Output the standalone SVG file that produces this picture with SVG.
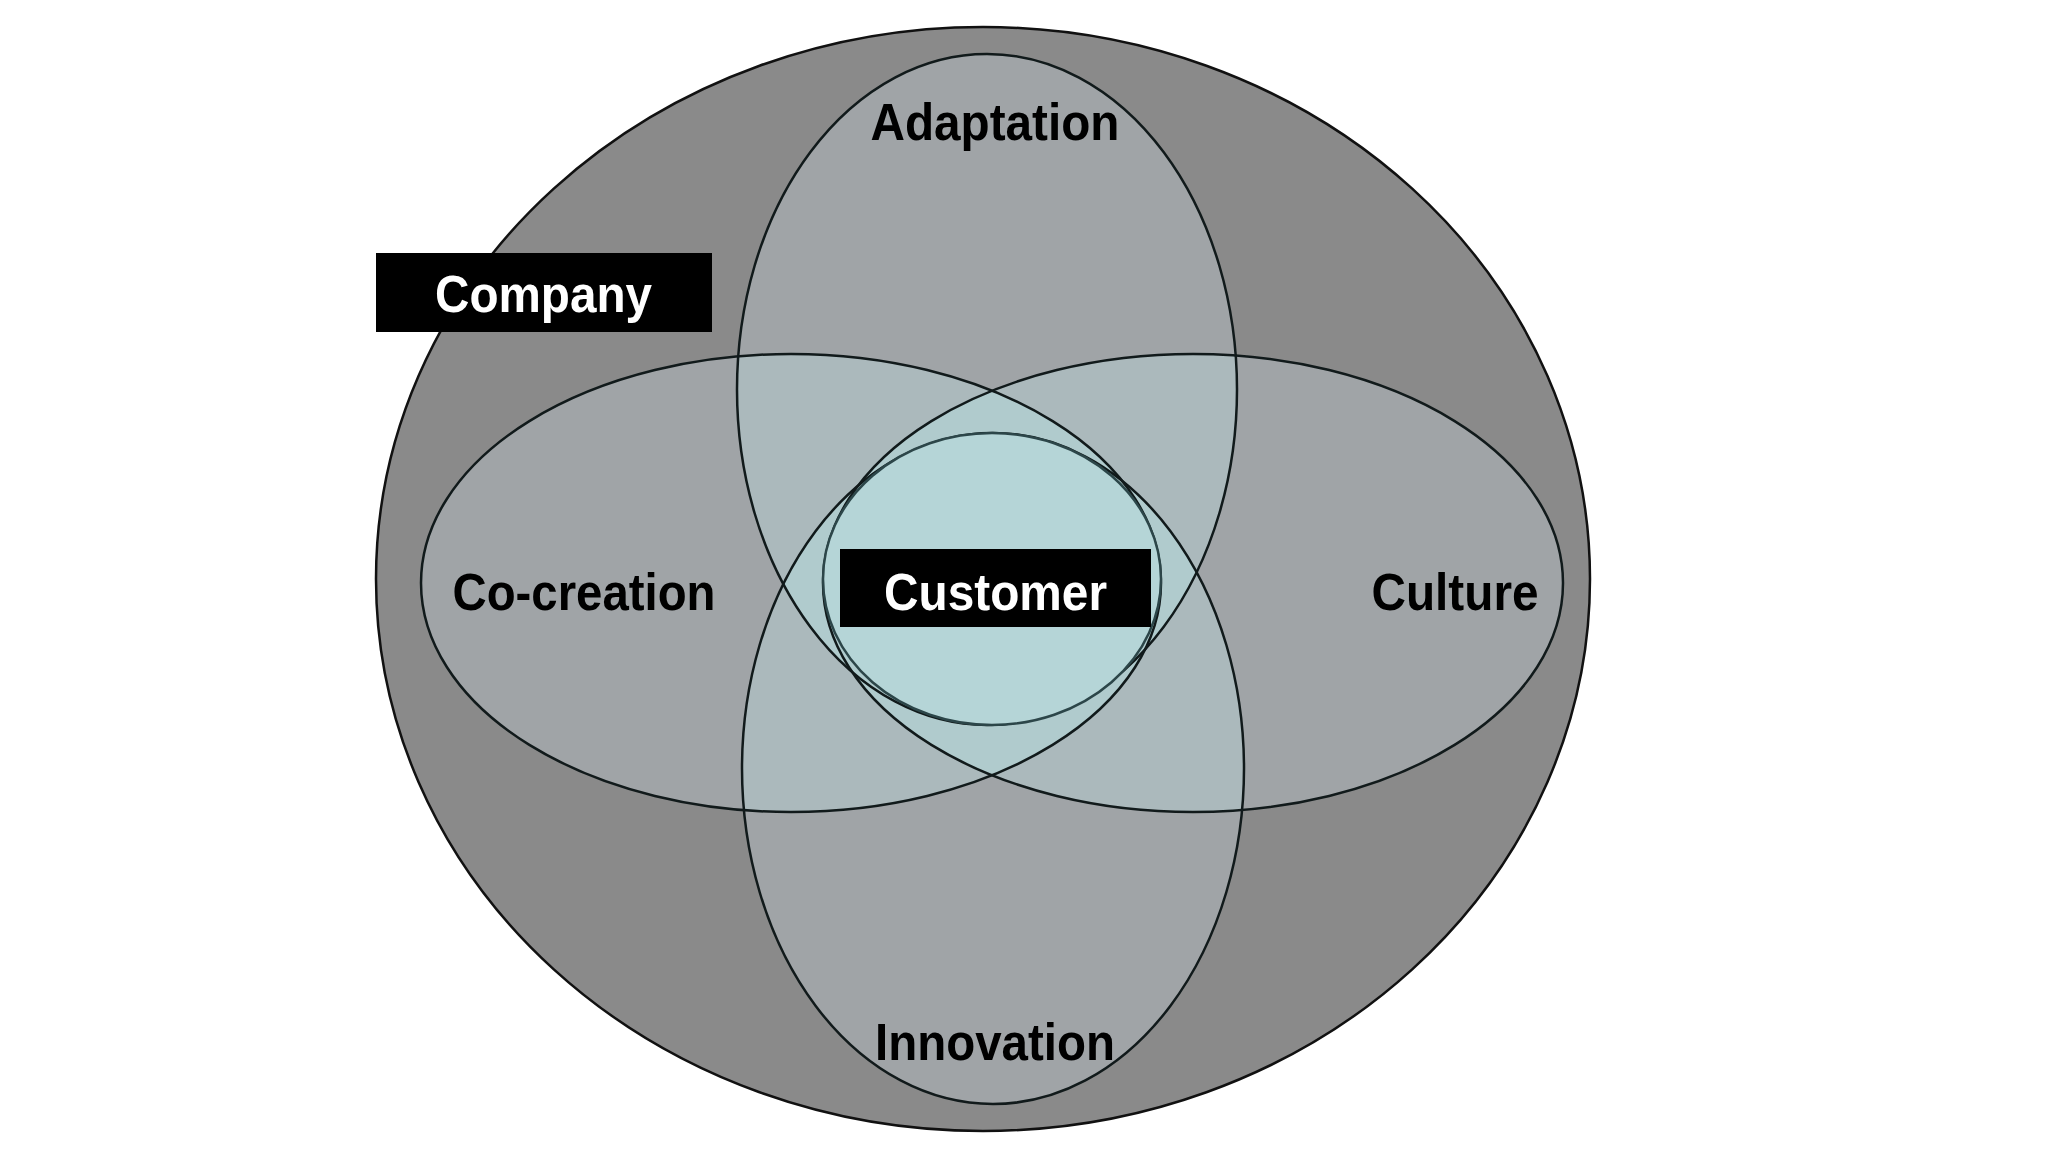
<svg xmlns="http://www.w3.org/2000/svg" xmlns:xlink="http://www.w3.org/1999/xlink" width="2048" height="1152" viewBox="0 0 2048 1152">
  <style>
    .outline { fill: none; stroke: #111a1b; stroke-width: 2.5; }
    .cust-outline { fill: none; stroke: #2c4649; stroke-width: 2.5; }
    .single { fill: #a0a4a7; }
    .double { fill: #abb9bc; }
    .triple { fill: #b0cbcd; }
    .center { fill: #b5d5d7; }
    .label { font-family: "Liberation Sans", Arial, Helvetica, sans-serif; font-weight: bold; font-size: 52px; text-anchor: middle; fill: #000; }
    .label-inv { font-family: "Liberation Sans", Arial, Helvetica, sans-serif; font-weight: bold; font-size: 52px; text-anchor: middle; fill: #fff; }
    .box { fill: #000; }
  </style>
  <defs>
    <ellipse id="eA" cx="987" cy="389.5" rx="250" ry="335.5"/>
    <ellipse id="eI" cx="993" cy="768.5" rx="251" ry="335.5"/>
    <ellipse id="eCo" cx="791" cy="583" rx="370" ry="229"/>
    <ellipse id="eCu" cx="1193" cy="583" rx="370" ry="229"/>
    <clipPath id="cA"><ellipse cx="987" cy="389.5" rx="250" ry="335.5"/></clipPath>
    <clipPath id="cI"><ellipse cx="993" cy="768.5" rx="251" ry="335.5"/></clipPath>
    <clipPath id="cCo"><ellipse cx="791" cy="583" rx="370" ry="229"/></clipPath>
    <clipPath id="cCu"><ellipse cx="1193" cy="583" rx="370" ry="229"/></clipPath>
  </defs>

  <rect width="2048" height="1152" fill="#ffffff"/>

  <!-- Company (outer) -->
  <g id="company">
    <ellipse cx="983" cy="579" rx="607" ry="552" fill="#8a8a8a" stroke="#111" stroke-width="2.5"/>
  </g>

  <!-- region shading -->
  <g id="region-fills">
    <use xlink:href="#eA" class="single"/>
    <use xlink:href="#eI" class="single"/>
    <use xlink:href="#eCo" class="single"/>
    <use xlink:href="#eCu" class="single"/>
    <!-- pairwise overlaps -->
    <use xlink:href="#eCo" class="double" clip-path="url(#cA)"/>
    <use xlink:href="#eCu" class="double" clip-path="url(#cA)"/>
    <use xlink:href="#eCo" class="double" clip-path="url(#cI)"/>
    <use xlink:href="#eCu" class="double" clip-path="url(#cI)"/>
    <use xlink:href="#eI" class="double" clip-path="url(#cA)"/>
    <use xlink:href="#eCu" class="double" clip-path="url(#cCo)"/>
    <!-- triple overlaps -->
    <g clip-path="url(#cA)"><use xlink:href="#eCu" class="triple" clip-path="url(#cCo)"/></g>
    <g clip-path="url(#cI)"><use xlink:href="#eCu" class="triple" clip-path="url(#cCo)"/></g>
    <g clip-path="url(#cA)"><use xlink:href="#eI" class="triple" clip-path="url(#cCo)"/></g>
    <g clip-path="url(#cA)"><use xlink:href="#eI" class="triple" clip-path="url(#cCu)"/></g>
  </g>

  <g id="adaptation">
    <use xlink:href="#eA" class="outline"/>
    <text class="label" x="995" y="140" textLength="249" lengthAdjust="spacingAndGlyphs">Adaptation</text>
  </g>
  <g id="innovation">
    <use xlink:href="#eI" class="outline"/>
    <text class="label" x="995" y="1060" textLength="240" lengthAdjust="spacingAndGlyphs">Innovation</text>
  </g>
  <g id="co-creation">
    <use xlink:href="#eCo" class="outline"/>
    <text class="label" x="584" y="610" textLength="263" lengthAdjust="spacingAndGlyphs">Co-creation</text>
  </g>
  <g id="culture">
    <use xlink:href="#eCu" class="outline"/>
    <text class="label" x="1455" y="610" textLength="167" lengthAdjust="spacingAndGlyphs">Culture</text>
  </g>

  <g id="customer">
    <ellipse cx="992" cy="579" rx="169" ry="146" class="center"/>
    <ellipse cx="992" cy="579" rx="169" ry="146" class="cust-outline"/>
    <rect class="box" x="840" y="549" width="311" height="78"/>
    <text class="label-inv" x="995.5" y="610" textLength="223" lengthAdjust="spacingAndGlyphs">Customer</text>
  </g>

  <g id="company-label">
    <rect class="box" x="376" y="253" width="336" height="79"/>
    <text class="label-inv" x="543.5" y="312" textLength="217" lengthAdjust="spacingAndGlyphs">Company</text>
  </g>
</svg>
